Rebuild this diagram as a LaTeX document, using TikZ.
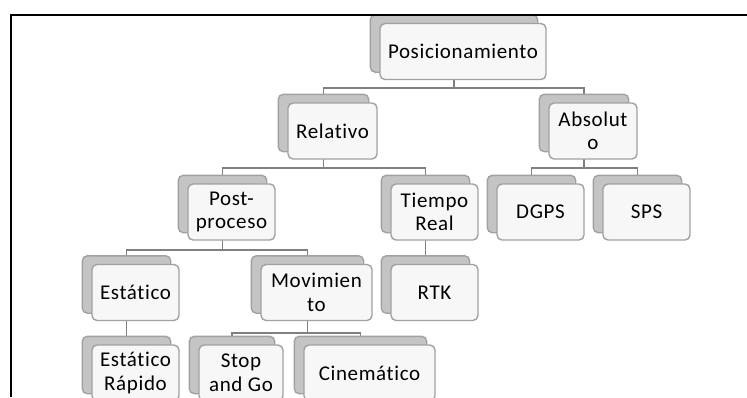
\documentclass[tikz,border=0pt]{standalone}
\usepackage{fontspec}
\setmainfont{Carlito}[LetterSpace=3,Ligatures={NoCommon,NoRare}]
\begin{document}
\begin{tikzpicture}[x=1pt,y=-1pt,
  card/.style={draw=black!37, line width=1.4pt, fill=black!3, rounded corners=5pt,
    minimum height=56pt, inner sep=2pt, align=center, text=black,
    font=\fontsize{21}{23.5}\selectfont},
  back/.style={draw=black!37, line width=1.4pt, fill=black!23, rounded corners=5pt,
    minimum height=56pt, inner sep=0pt},
  conn/.style={draw=black!50, line width=1.8pt},
  frame/.style={draw=black, line width=1.9pt}]
\useasboundingbox (0,0) rectangle (747,397);

% back plates (offset up-left from each card)
\node[back, minimum width=166pt] (pos-s)  at (454,43.5) {};
\node[back, minimum width=89pt]  (rel-s)  at (323.5,123) {};
\node[back, minimum width=88pt]  (abs-s)  at (584,123) {};
\node[back, minimum width=87pt]  (post-s) at (222.5,204) {};
\node[back, minimum width=87pt]  (tr-s)   at (425.5,204) {};
\node[back, minimum width=87pt]  (dgps-s) at (531.5,204) {};
\node[back, minimum width=87pt]  (sps-s)  at (637.5,204) {};
\node[back, minimum width=87pt]  (est-s)  at (126.5,284.5) {};
\node[back, minimum width=111pt] (mov-s)  at (307.5,284.5) {};
\node[back, minimum width=87pt]  (rtk-s)  at (425.5,284.5) {};
\node[back, minimum width=87pt]  (estr-s) at (126.5,365) {};
\node[back, minimum width=84pt]  (stop-s) at (232,365) {};
\node[back, minimum width=131pt] (cin-s)  at (360.5,365) {};

% connectors of the hierarchy
\draw[conn] (pos-s.south) -- ++(0,16) -| (rel-s.north);
\draw[conn] (pos-s.south) -- ++(0,16) -| (abs-s.north);
\draw[conn] (rel-s.south) -- ++(0,16) -| (post-s.north);
\draw[conn] (rel-s.south) -- ++(0,16) -| (tr-s.north);
\draw[conn] (abs-s.south) -- ++(0,16) -| (dgps-s.north);
\draw[conn] (abs-s.south) -- ++(0,16) -| (sps-s.north);
\draw[conn] (post-s.south) -- ++(0,17) -| (est-s.north);
\draw[conn] (post-s.south) -- ++(0,17) -| (mov-s.north);
\draw[conn] (tr-s.south) -- (rtk-s.north);
\draw[conn] (est-s.south) -- (estr-s.north);
\draw[conn] (mov-s.south) -- ++(0,20) -| (stop-s.north);
\draw[conn] (mov-s.south) -- ++(0,20) -| (cin-s.north);

% back plates again so the connectors stay behind them
\foreach \n in {pos,rel,abs,post,tr,dgps,sps,est,mov,rtk,estr,stop,cin}{
  \path[back] (\n-s.north west) rectangle (\n-s.south east);
}

% cards with labels
\node[card, minimum width=166pt] (pos)  at (463,51.5) {Posicionamiento};
\node[card, minimum width=89pt]  (rel)  at (332.5,131) {Relativo};
\node[card, minimum width=88pt]  (abs)  at (593,131) {Absolut\\o};
\node[card, minimum width=87pt]  (post) at (231.5,212) {Post-\\proceso};
\node[card, minimum width=87pt]  (tr)   at (434.5,212) {Tiempo\\Real};
\node[card, minimum width=87pt]  (dgps) at (540.5,212) {DGPS};
\node[card, minimum width=87pt]  (sps)  at (646.5,212) {SPS};
\node[card, minimum width=87pt]  (est)  at (135.5,292.5) {Estático};
\node[card, minimum width=111pt] (mov)  at (316.5,292.5) {Movimien\\to};
\node[card, minimum width=87pt]  (rtk)  at (434.5,292.5) {RTK};
\node[card, minimum width=87pt]  (estr) at (135.5,373) {Estático\\Rápido};
\node[card, minimum width=84pt]  (stop) at (241,373) {Stop\\and Go};
\node[card, minimum width=131pt] (cin)  at (369.5,373) {Cinemático};

% page frame: top and left rules
\coordinate (fr-top-right) at (747,15);
\coordinate (fr-corner) at (11,15);
\coordinate (fr-bottom-left) at (11,397);
\draw[frame] (fr-top-right) -- (fr-corner) -- (fr-bottom-left);
\end{tikzpicture}
\end{document}
